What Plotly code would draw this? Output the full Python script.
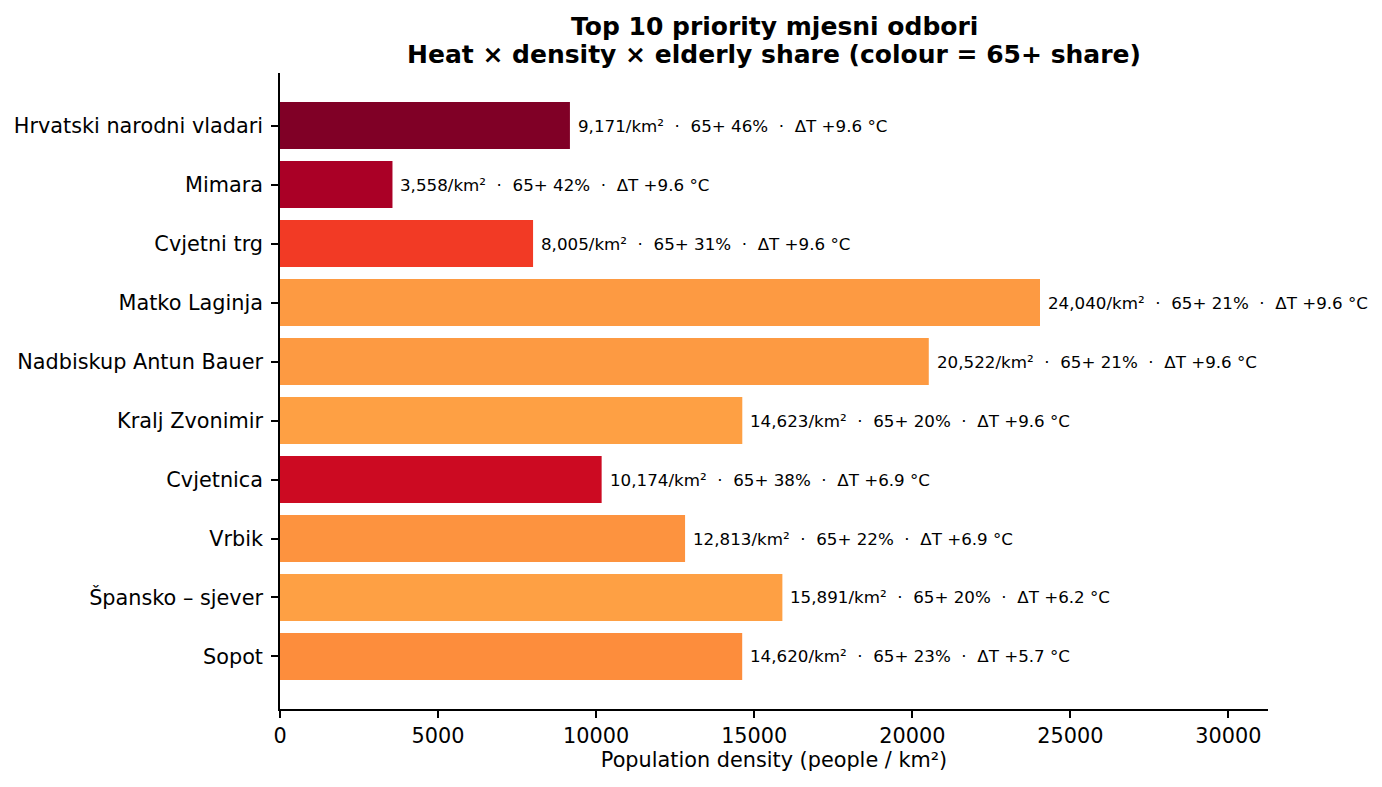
import plotly.graph_objects as go
import plotly.colors as pc

names = ["Hrvatski narodni vladari", "Mimara", "Cvjetni trg", "Matko Laginja",
         "Nadbiskup Antun Bauer", "Kralj Zvonimir", "Cvjetnica", "Vrbik",
         "Špansko – sjever", "Sopot"]
density = [9171, 3558, 8005, 24040, 20522, 14623, 10174, 12813, 15891, 14620]
share65 = [46, 42, 31, 21, 21, 20, 38, 22, 20, 23]
delta_t = [9.6, 9.6, 9.6, 9.6, 9.6, 9.6, 6.9, 6.9, 6.2, 5.7]
title_lines = ["Top 10 priority mjesni odbori",
               "Heat × density × elderly share (colour = 65+ share)"]

scale = pc.sequential.YlOrRd
cs = [[i / (len(scale) - 1), c] for i, c in enumerate(scale)]

font = "DejaVu Sans"
sep = "\u00a0\u00a0·\u00a0\u00a0"
labels = [f"{d:,}/km²{sep}65+ {s}%{sep}ΔT +{t:.1f} °C" for d, s, t in zip(density, share65, delta_t)]

fig = go.Figure(go.Bar(
    x=density, y=names, orientation="h", width=0.8,
    marker=dict(color=share65, colorscale=cs, cmin=0, cmax=max(share65), line=dict(width=0)),
    hoverinfo="skip",
))

for d, n, lab in zip(density, names, labels):
    fig.add_annotation(x=d, y=n, text=lab, showarrow=False, xanchor="left", yanchor="middle",
                       xshift=6, font=dict(family=font, size=16.7, color="black"))

for line, shift in zip(title_lines, [47, 19]):
    fig.add_annotation(xref="paper", yref="paper", x=0.5, y=1, yshift=shift, text=f"<b>{line}</b>",
                       showarrow=False, xanchor="center", yanchor="middle",
                       font=dict(family=font, size=25, color="black"))

xmax = max(density) * 1.3
fig.update_layout(
    width=1374, height=779,
    paper_bgcolor="white", plot_bgcolor="white",
    margin=dict(l=272, r=114, t=65, b=78, autoexpand=False),
    font=dict(family=font, size=20.8, color="black"),
    showlegend=False,
)
fig.update_xaxes(range=[0, xmax], tickvals=[0, 5000, 10000, 15000, 20000, 25000, 30000],
                 tickformat="d", ticks="outside", ticklen=7, tickwidth=1.6, tickcolor="black",
                 showline=True, linecolor="black", linewidth=1.6, showgrid=False, zeroline=False,
                 automargin=False,
                 title=dict(text="Population density (people / km²)", font=dict(size=20.8), standoff=5),
                 tickfont=dict(size=20.8))
fig.update_yaxes(categoryorder="array", categoryarray=names[::-1], range=[-0.89, 9.89],
                 ticks="outside", ticklen=7, tickwidth=1.6, tickcolor="black", ticklabelstandoff=4,
                 showline=True, linecolor="black", linewidth=1.6, showgrid=False, zeroline=False,
                 automargin=False, tickfont=dict(size=20.8))

fig.write_html("out.html")
